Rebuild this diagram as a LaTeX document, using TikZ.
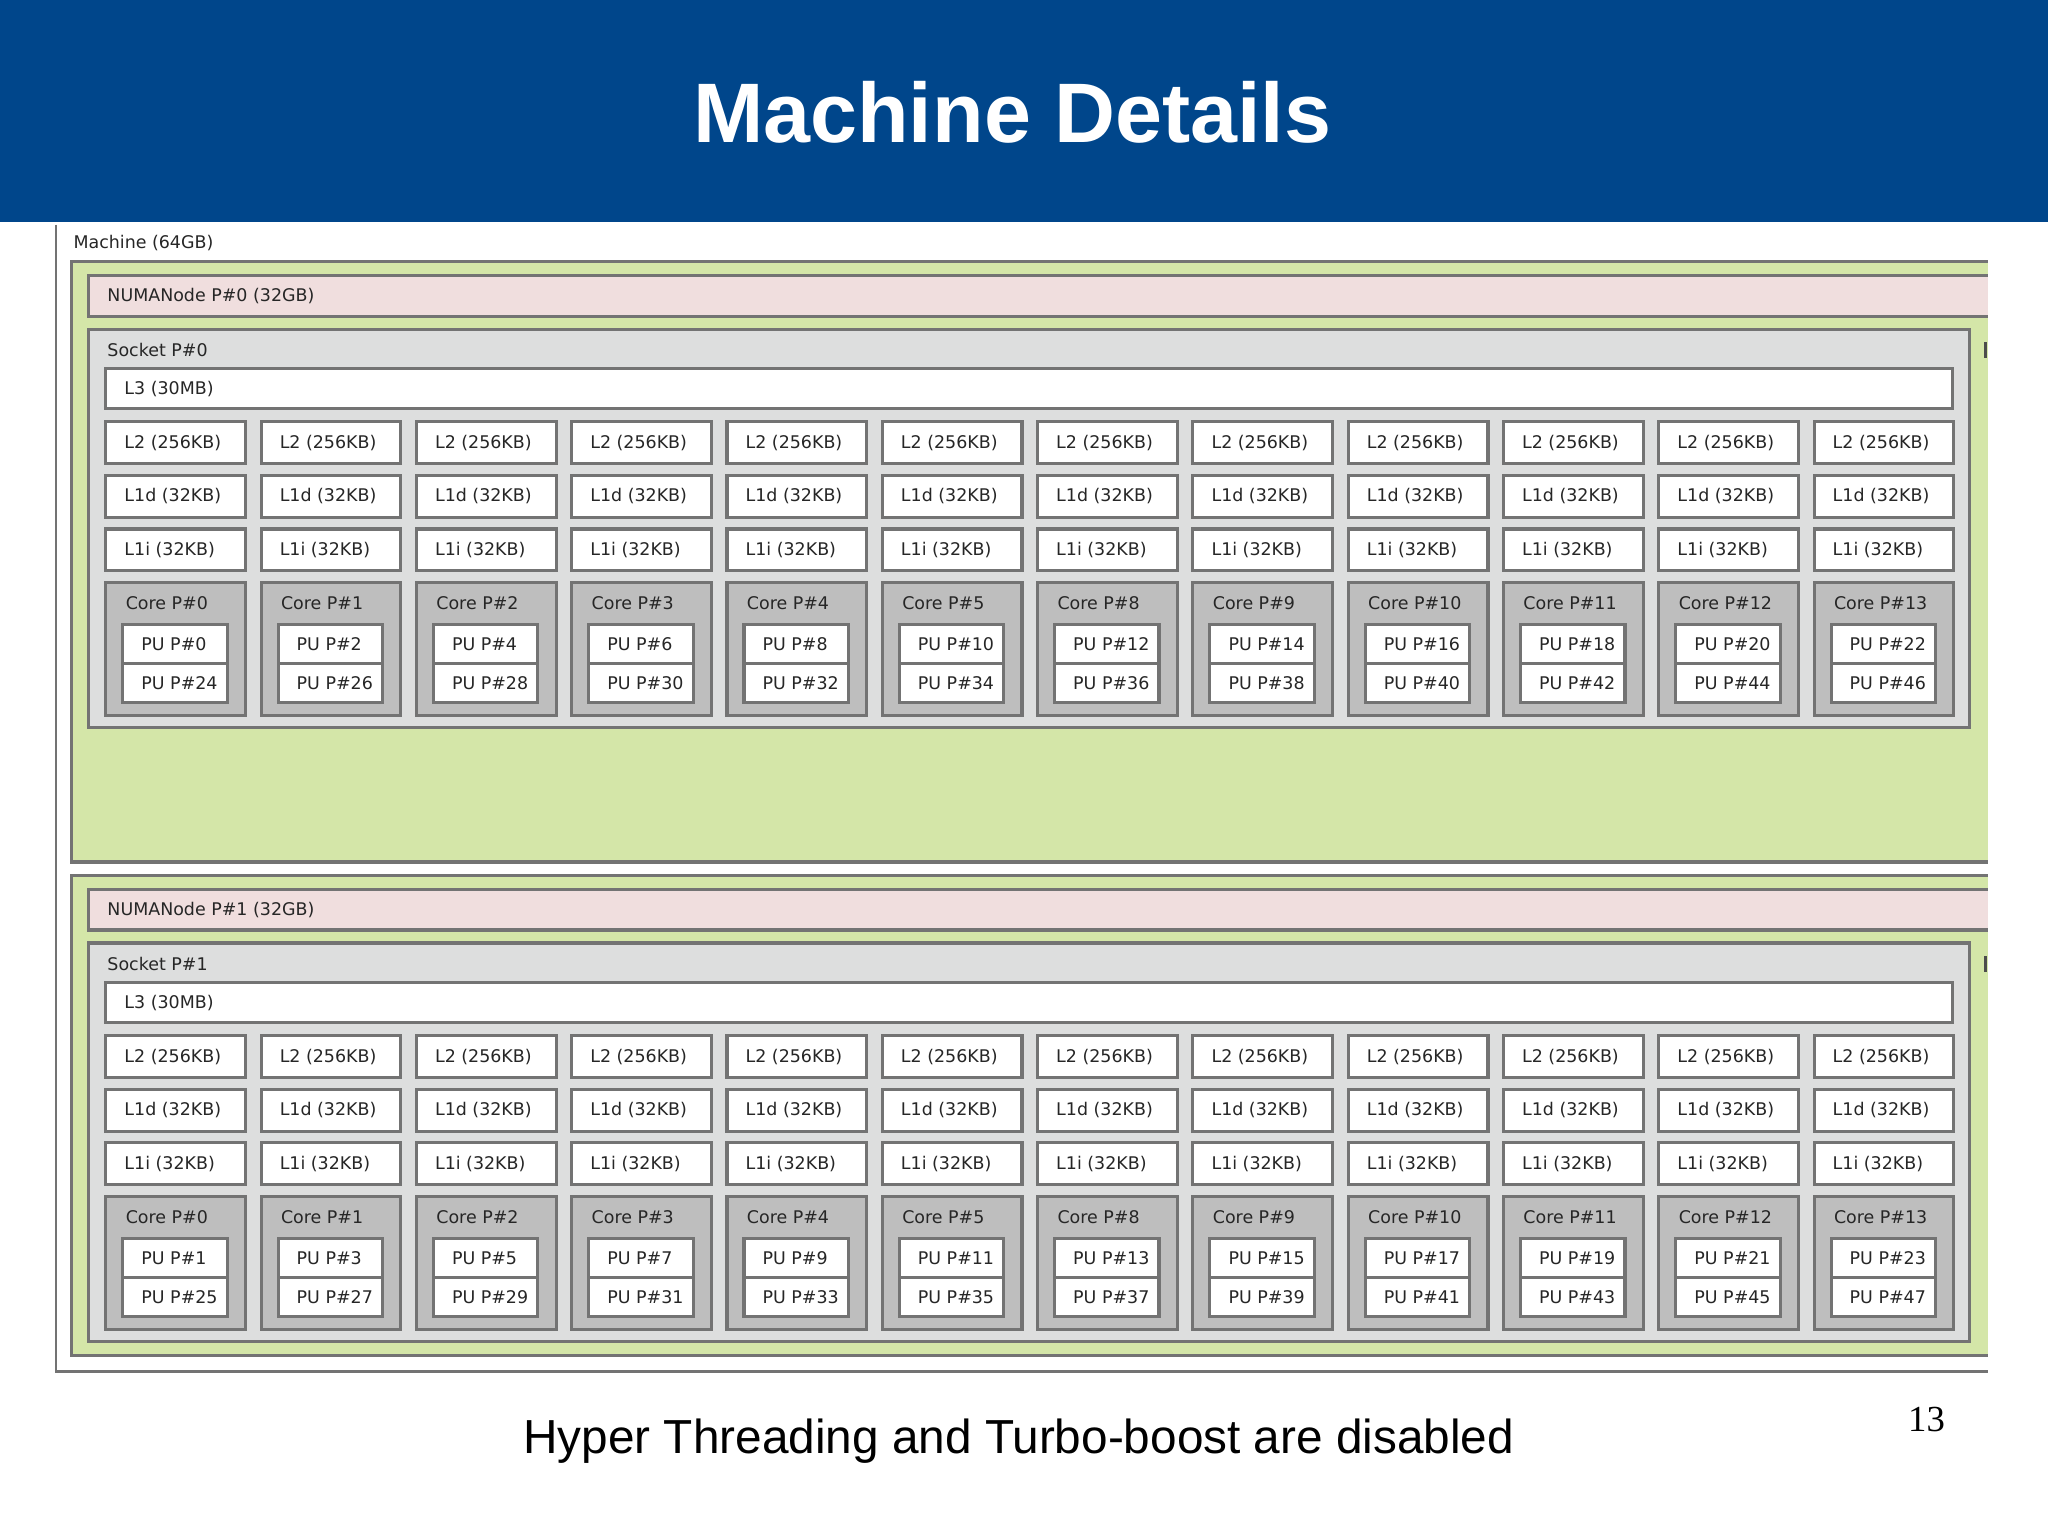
\documentclass[tikz,border=0pt]{standalone}
\usepackage{fontspec}
\setmainfont{Liberation Sans}
\newfontfamily\boxfont{DejaVu Sans}
\newfontfamily\numfont{Liberation Serif}
\begin{document}
\begin{tikzpicture}[x=0.25mm,y=-0.25mm,
  bx/.style={draw=black!55,line width=0.6mm},
  lbl/.style={anchor=west,inner sep=0,font=\boxfont\fontsize{9.5}{10}\selectfont,text=black!85},
  cell/.style={bx,fill=white}]
\useasboundingbox (0,0) rectangle (1568,1175);
\fill[fill={rgb,255:red,0;green,70;blue,139}] (0,0) rectangle (1568,170);
\node[text=white,font=\bfseries\fontsize{46}{50}\selectfont] (title) at (775,86) {Machine Details};
% machine frame
\draw[black!55,line width=0.5mm] (43,172) -- (43,1050) -- (1522,1050);
\node[lbl] (mach) at (56,186) {Machine (64GB)};
\foreach \s/\oy/\gb in {0/0/660,1/470/1038}{
  \path[bx,fill={rgb,255:red,212;green,230;blue,168}] (1522,200+\oy) -- (55,200+\oy) -- (55,\gb) -- (1522,\gb);
  \path[bx,fill={rgb,255:red,240;green,222;blue,222}] (1522,211+\oy) -- (68,211+\oy) -- (68,242+\oy) -- (1522,242+\oy);
  \node[lbl] (numa\s) at (82,227+\oy) {NUMANode P\#\s\ (32GB)};
  \draw[bx,fill={rgb,255:red,221;green,222;blue,222}] (68,252+\oy) rectangle (1508,557+\oy);
  \node[lbl] (sock\s) at (82,268+\oy) {Socket P\#\s};
  \draw[black!70,line width=0.5mm] (1520,262+\oy) -- (1520,274+\oy);
  \draw[cell] (81,282+\oy) rectangle (1495,313+\oy);
  \node[lbl] (lthree\s) at (95,298+\oy) {L3 (30MB)};
  \foreach \i/\c in {0/0,1/1,2/2,3/3,4/4,5/5,6/8,7/9,8/10,9/11,10/12,11/13}{
    \pgfmathsetmacro{\xl}{81+118.9*\i}
    \pgfmathtruncatemacro{\pa}{2*\i+\s}
    \pgfmathtruncatemacro{\pb}{2*\i+\s+24}
    \draw[cell] (\xl,323+\oy) rectangle ++(107,32);
    \node[lbl] (ltwo\s-\i) at (\xl+14,339+\oy) {L2 (256KB)};
    \draw[cell] (\xl,364+\oy) rectangle ++(107,32);
    \node[lbl] (lod\s-\i) at (\xl+14,380+\oy) {L1d (32KB)};
    \draw[cell] (\xl,405+\oy) rectangle ++(107,32);
    \node[lbl] (loi\s-\i) at (\xl+14,421+\oy) {L1i (32KB)};
    \draw[bx,fill={rgb,255:red,190;green,190;blue,190}] (\xl,446+\oy) rectangle ++(107,102);
    \node[lbl] (core\s-\i) at (\xl+15,462+\oy) {Core P\#\c};
    \draw[cell] (\xl+13,478+\oy) rectangle ++(80,30);
    \draw[cell] (\xl+13,508+\oy) rectangle ++(80,30);
    \node[lbl] (pua\s-\i) at (\xl+27,493+\oy) {PU P\#\pa};
    \node[lbl] (pub\s-\i) at (\xl+27,523+\oy) {PU P\#\pb};
  }
}
\node[font=\fontsize{26}{30}\selectfont] (foot) at (780,1103) {Hyper Threading and Turbo-boost are disabled};
\node[font=\numfont\fontsize{20}{24}\selectfont] (pg) at (1475,1087) {13};
\end{tikzpicture}
\end{document}
